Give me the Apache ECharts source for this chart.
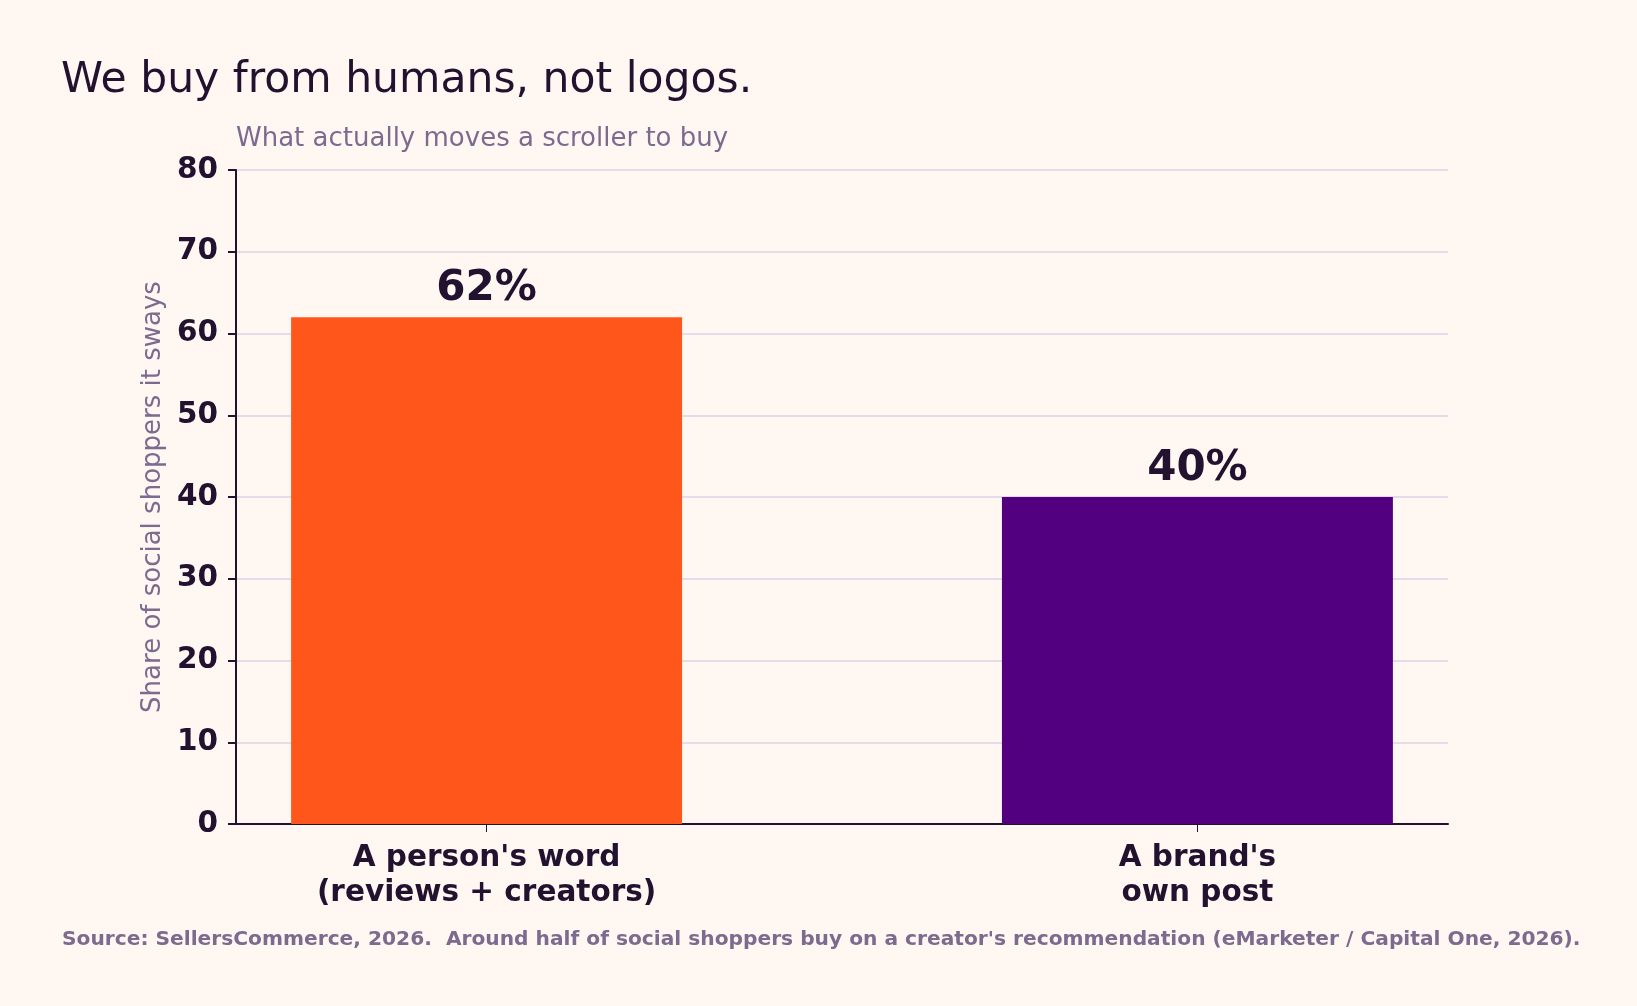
<!DOCTYPE html>
<html>
<head>
<meta charset="utf-8">
<title>We buy from humans, not logos.</title>
<script src="https://cdn.jsdelivr.net/npm/echarts@6/dist/echarts.min.js"></script>
<style>
  html, body { margin: 0; padding: 0; background: #fff7f2; }
  #chart { width: 1637px; height: 1006px; }
</style>
</head>
<body>
<div id="chart"></div>
<script>
// data
var categories = ["A person's word\n(reviews + creators)", "A brand's\nown post"];
var shares = [62, 40];
var barColors = ['#ff571b', '#520080'];
var yTicks = [0, 10, 20, 30, 40, 50, 60, 70, 80];

var ink = '#22122f';
var muted = '#7b6b8e';
var font = 'DejaVu Sans';

var chart = echarts.init(document.getElementById('chart'));

// bars sit on x = 0, 1 with width 0.55; x range padded like the original
var xMin = -0.3525, xMax = 1.3525;
var plotW = 1637 - 236 - 189;
var unitPx = plotW / (xMax - xMin);

var option = {
    backgroundColor: '#fff7f2',
    animation: false,
    title: [
        {
            text: 'We buy from humans, not logos.',
            left: 56, top: 54,
            textStyle: { fontFamily: font, fontSize: 42.5, fontWeight: 'normal', color: ink }
        },
        {
            text: 'What actually moves a scroller to buy',
            left: 231, top: 121,
            textStyle: { fontFamily: font, fontSize: 26, fontWeight: 'normal', color: muted }
        },
        {
            text: "Source: SellersCommerce, 2026.  Around half of social shoppers buy on a creator's recommendation (eMarketer / Capital One, 2026).",
            left: 57, top: 925,
            textStyle: { fontFamily: font, fontSize: 20.2, fontWeight: 'bold', color: muted }
        }
    ],
    grid: { left: 236, right: 189, top: 170, bottom: 182, containLabel: false },
    xAxis: {
        type: 'value',
        min: xMin,
        max: xMax,
        splitLine: { show: false },
        axisLine: { show: true, onZero: false, lineStyle: { color: ink, width: 2 } },
        axisTick: { show: true, customValues: [0, 1], length: 8, lineStyle: { color: ink, width: 1 } },
        axisLabel: {
            customValues: [0, 1],
            margin: 17,
            fontFamily: font, fontSize: 29.5, fontWeight: 'bold', color: ink, lineHeight: 35,
            formatter: function (v) { return categories[Math.round(v)] || ''; }
        }
    },
    yAxis: {
        type: 'value',
        min: 0,
        max: 80,
        interval: 10,
        name: 'Share of social shoppers it sways',
        nameLocation: 'middle',
        nameRotate: 90,
        nameGap: 62,
        nameTextStyle: { fontFamily: font, fontSize: 26, color: muted },
        axisLine: { show: true, onZero: false, lineStyle: { color: ink, width: 2 } },
        axisTick: { show: true, length: 8, lineStyle: { color: ink, width: 2 } },
        axisLabel: {
            margin: 18,
            fontFamily: font, fontSize: 29.5, fontWeight: 'bold', color: ink,
            formatter: function (v) { return yTicks.indexOf(v) >= 0 ? String(v) : ''; }
        },
        splitLine: { show: true, lineStyle: { color: '#e6dbea', width: 2 } }
    },
    series: [{
        type: 'bar',
        barWidth: 0.55 * unitPx,
        data: shares.map(function (v, i) {
            return { value: [i, v], itemStyle: { color: barColors[i] } };
        }),
        label: {
            show: true,
            position: 'top',
            distance: 7,
            fontFamily: font, fontSize: 42, fontWeight: 'bold', color: ink,
            formatter: function (p) { return p.value[1] + '%'; }
        },
        z: 3
    }]
};

chart.setOption(option);
</script>
</body>
</html>
